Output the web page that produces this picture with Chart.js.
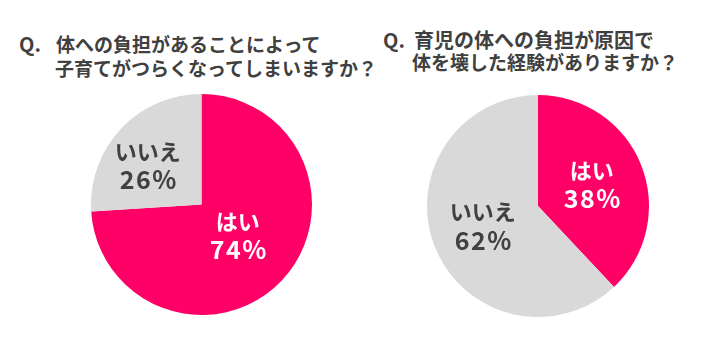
<!DOCTYPE html>
<html><head><meta charset="utf-8">
<script src="https://cdn.jsdelivr.net/npm/chart.js@4"></script>
<style>
html,body{margin:0;padding:0;background:#fff;width:720px;height:357px;overflow:hidden;}
.t{position:absolute;font-family:"Noto Sans CJK JP",sans-serif;font-weight:bold;color:#404040;font-size:19px;line-height:23px;white-space:nowrap;}
.c{position:absolute;}
</style></head><body>
<div class="t" style="left:19px;top:32px;font-size:20px;">Q.</div>
<div class="t" style="left:56px;top:32px;">体への負担があることによって</div>
<div class="t" style="left:55px;top:56px;">子育てがつらくなってしまいますか？</div>
<div class="t" style="left:383px;top:28px;font-size:20px;">Q.</div>
<div class="t" style="left:414px;top:28px;font-size:20px;">育児の体への負担が原因で</div>
<div class="t" style="left:412px;top:50px;">体を壊した経験がありますか？</div>
<div class="c" style="left:91px;top:94px;width:221px;height:221px;"><canvas id="c1"></canvas></div>
<div class="c" style="left:427px;top:95px;width:222px;height:222px;"><canvas id="c2"></canvas></div>
<script>
const categories = ["はい", "いいえ"];
const q1Values = [74, 26];
const q2Values = [38, 62];
const sliceColors = ["#FF0066", "#D9D9D9"];
const labelColors = ["#FFFFFF", "#404040"];

const labelPlugin = {
  id: 'sliceLabels',
  afterDatasetsDraw(chart, args, opts) {
    const ctx = chart.ctx;
    const meta = chart.getDatasetMeta(0);
    const data = chart.data.datasets[0].data;
    meta.data.forEach((arc, i) => {
      const p = arc.getProps(['x','y','startAngle','endAngle','outerRadius'], true);
      const mid = (p.startAngle + p.endAngle) / 2 + (opts.angleShift[i] || 0);
      const r = p.outerRadius * opts.radius[i];
      const x = p.x + Math.cos(mid) * r;
      const y = p.y + Math.sin(mid) * r;
      ctx.save();
      ctx.fillStyle = labelColors[i];
      ctx.textAlign = 'center';
      ctx.textBaseline = 'middle';
      ctx.font = 'bold 22px "Noto Sans CJK JP", sans-serif';
      ctx.fillText(chart.data.labels[i], x, y - 14);
      ctx.font = 'bold 25px "Noto Sans CJK JP", sans-serif';
      if ('letterSpacing' in ctx) ctx.letterSpacing = '1.5px';
      ctx.fillText(data[i] + '%', x + 1, y + 14);
      ctx.restore();
    });
  }
};

function makePie(id, values, radius, angleShift) {
  return new Chart(document.getElementById(id), {
    type: 'pie',
    data: { labels: categories, datasets: [{ data: values, backgroundColor: sliceColors, borderWidth: 0 }] },
    options: {
      responsive: true, maintainAspectRatio: false, animation: false,
      layout: { padding: 0 },
      plugins: { legend: { display: false }, tooltip: { enabled: false }, title: { display: false },
        sliceLabels: { radius: radius, angleShift: angleShift } }
    },
    plugins: [labelPlugin]
  });
}
makePie('c1', q1Values, [0.43, 0.6], [-0.05, -0.13]);
makePie('c2', q2Values, [0.52, 0.53], [0, 0.03]);
</script>
</body></html>
